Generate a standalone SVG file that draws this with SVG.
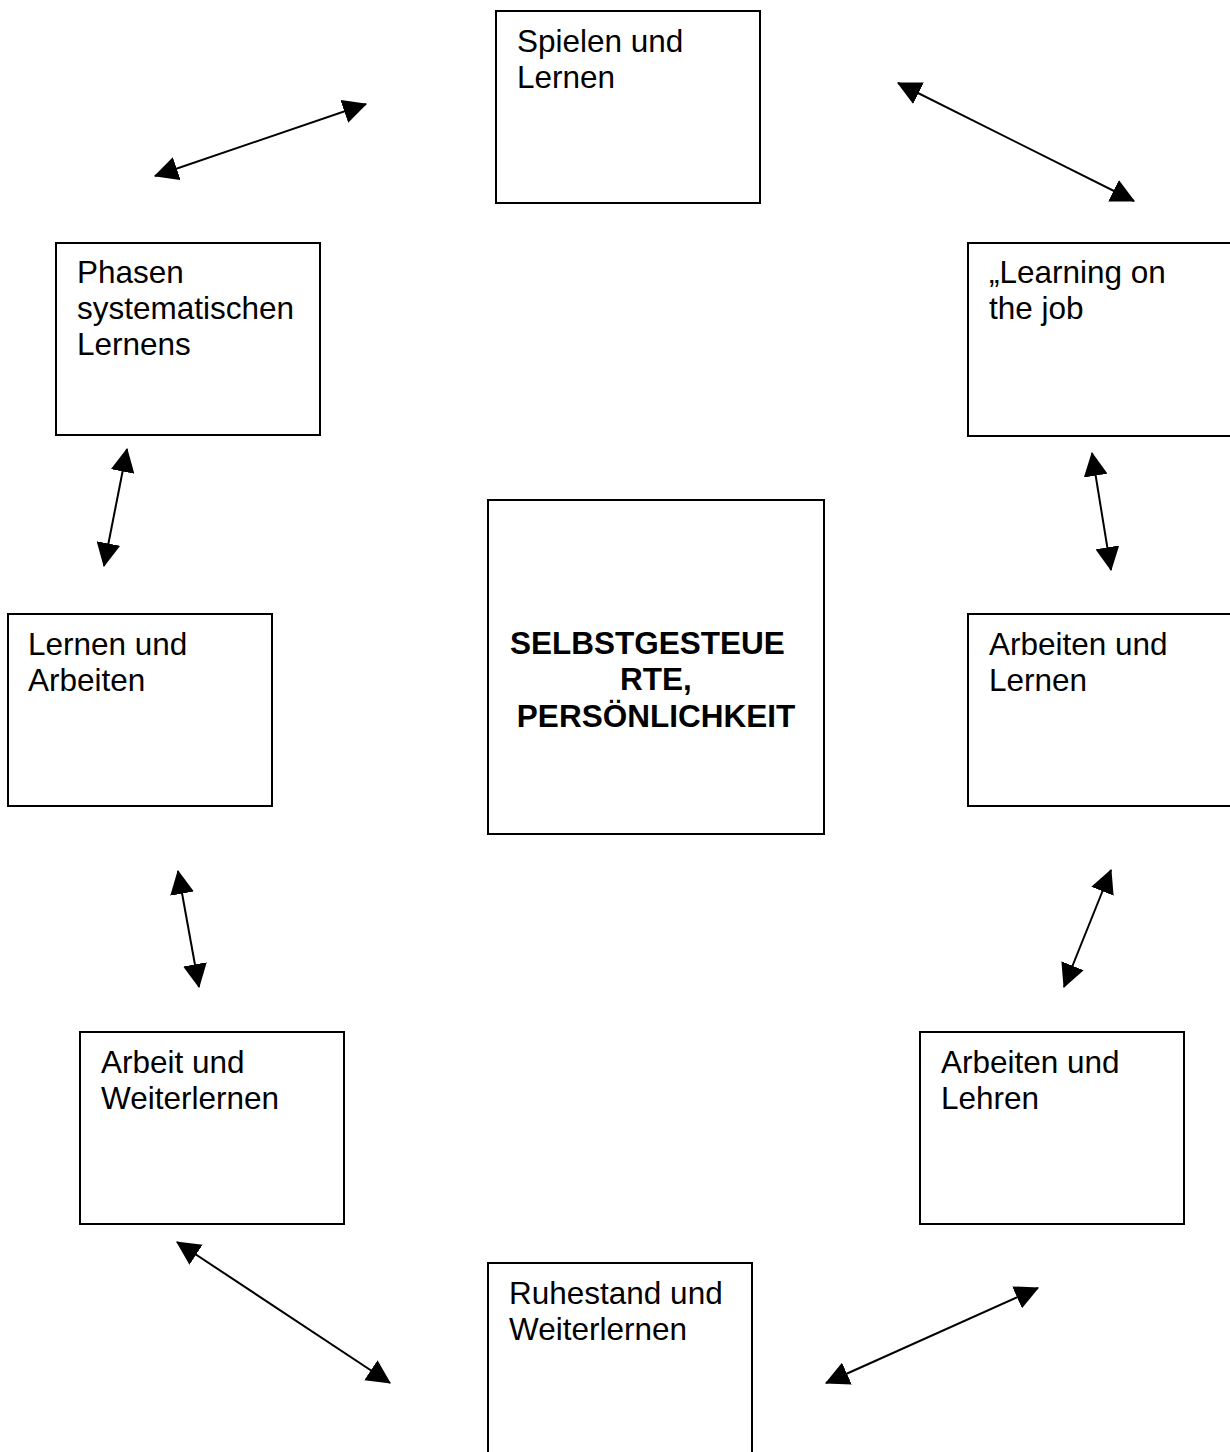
<svg xmlns="http://www.w3.org/2000/svg" width="1230" height="1452" viewBox="0 0 1230 1452">
<style>
.box{fill:#fff;stroke:#000;stroke-width:2}
.t{font-family:"Liberation Sans",Arial,sans-serif;font-size:31.5px;fill:#000}
.b{font-weight:bold}
.c{stroke:#000;stroke-width:2;fill:none;marker-start:url(#ah);marker-end:url(#ah)}
</style>
<defs>
<marker id="ah" markerUnits="userSpaceOnUse" markerWidth="24" markerHeight="24" viewBox="0 0 22 22" refX="21" refY="11" orient="auto-start-reverse">
<path d="M0,0 L22,11 L0,22 Z" fill="#000"/>
</marker>
</defs>
<rect width="1230" height="1452" fill="#fff"/>
<g id="connectors">
<line class="c" x1="155" y1="176" x2="366" y2="104"/>
<line class="c" x1="898" y1="83" x2="1134" y2="201"/>
<line class="c" x1="127" y1="449" x2="104" y2="566"/>
<line class="c" x1="1092" y1="453" x2="1111" y2="570"/>
<line class="c" x1="178" y1="871" x2="199" y2="987"/>
<line class="c" x1="1111" y1="870" x2="1064" y2="987"/>
<line class="c" x1="177" y1="1242" x2="390" y2="1383"/>
<line class="c" x1="826" y1="1383" x2="1038" y2="1288"/>
</g>
<g id="spielen">
<rect class="box" x="496" y="11" width="264" height="192"/>
<text class="t" x="517" y="52">Spielen und</text>
<text class="t" x="517" y="88">Lernen</text>
</g>
<g id="phasen">
<rect class="box" x="56" y="243" width="264" height="192"/>
<text class="t" x="77" y="283">Phasen</text>
<text class="t" x="77" y="319">systematischen</text>
<text class="t" x="77" y="355">Lernens</text>
</g>
<g id="learning">
<rect class="box" x="968" y="243" width="264" height="193"/>
<text class="t" x="989" y="283">„Learning on</text>
<text class="t" x="989" y="319">the job</text>
</g>
<g id="center">
<rect class="box" x="488" y="500" width="336" height="334"/>
<text class="t b" x="510" y="654">SELBSTGESTEUE</text>
<text class="t b" x="656" y="690" text-anchor="middle">RTE,</text>
<text class="t b" x="656" y="727" text-anchor="middle">PERSÖNLICHKEIT</text>
</g>
<g id="lernen-arbeiten">
<rect class="box" x="8" y="614" width="264" height="192"/>
<text class="t" x="28" y="655">Lernen und</text>
<text class="t" x="28" y="691">Arbeiten</text>
</g>
<g id="arbeiten-lernen">
<rect class="box" x="968" y="614" width="264" height="192"/>
<text class="t" x="989" y="655">Arbeiten und</text>
<text class="t" x="989" y="691">Lernen</text>
</g>
<g id="arbeit-weiterlernen">
<rect class="box" x="80" y="1032" width="264" height="192"/>
<text class="t" x="101" y="1073">Arbeit und</text>
<text class="t" x="101" y="1109">Weiterlernen</text>
</g>
<g id="arbeiten-lehren">
<rect class="box" x="920" y="1032" width="264" height="192"/>
<text class="t" x="941" y="1073">Arbeiten und</text>
<text class="t" x="941" y="1109">Lehren</text>
</g>
<g id="ruhestand">
<rect class="box" x="488" y="1263" width="264" height="200"/>
<text class="t" x="509" y="1304">Ruhestand und</text>
<text class="t" x="509" y="1340">Weiterlernen</text>
</g>
</svg>
